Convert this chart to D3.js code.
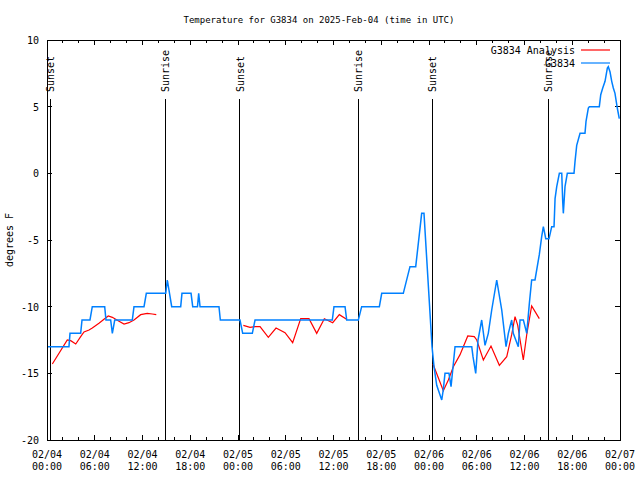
<!DOCTYPE html>
<html><head><meta charset="utf-8">
<script src="https://cdn.jsdelivr.net/npm/d3@7"></script>
<style>
body{margin:0;background:#fff;}
text{font-family:"DejaVu Sans Mono",monospace;font-size:10px;fill:#000;}
</style></head>
<body><svg id="c" width="640" height="480"></svg>
<script>
const titleText = "Temperature for G3834 on 2025-Feb-04 (time in UTC)";
const yLabel = "degrees F";
const yTicks = [-20,-15,-10,-5,0,5,10];
const seriesNames = ["G3834 Analysis","G3834"];
const seriesColors = ["#ff0000","#0080ff"];
// hours since 2025-02-04 00:00 UTC
const blueHours = [0.13,2.76,2.89,4.23,4.40,5.40,5.69,7.25,7.41,8.00,8.21,8.51,10.72,10.93,12.19,12.48,14.92,15.12,15.67,16.80,16.96,18.10,18.31,18.91,19.06,19.23,21.61,21.78,24.25,24.59,25.80,26.14,35.85,36.06,37.45,37.66,39.12,39.54,41.76,42.06,44.77,45.61,46.33,47.08,47.37,48.38,48.63,48.97,49.60,49.80,50.01,50.51,50.77,51.27,53.37,53.53,53.87,54.16,54.62,55.04,55.45,55.88,56.51,57.14,57.68,57.97,58.39,58.59,59.22,59.44,59.86,60.28,60.61,60.90,61.32,61.86,62.16,62.37,62.67,63.08,63.42,63.71,63.84,64.05,64.38,64.68,64.80,64.88,65.09,65.38,66.22,66.35,66.56,66.98,67.60,67.73,68.02,68.15,69.40,69.58,69.83,70.12,70.41,70.53,70.75,70.96,71.16,71.37,71.66,71.91];
const blueTemps = [-13,-13,-12,-12,-11,-11,-10,-10,-11,-11,-12,-11,-11,-10,-10,-9,-9,-8,-10,-10,-9,-9,-10,-10,-9,-10,-10,-11,-11,-12,-12,-11,-11,-10,-10,-11,-11,-10,-10,-9,-9,-7,-7,-3,-3,-13,-14.5,-15.9,-17,-16.2,-15,-15,-16,-13,-13,-13.75,-15,-12.5,-11,-12.9,-12,-10.25,-8,-10.25,-13,-12,-11,-12,-13,-11,-11,-12,-9.75,-8,-8,-6.1,-4.75,-4,-4.9,-4.9,-4,-4,-1.9,-1,0,0,-2.1,-3,-1,0,0,0.9,2.1,3,3,3.9,4.9,5,5,5.9,6.4,6.9,7.9,8,7.6,6.9,6.4,6,4.9,4.1];
// null breaks the analysis line into segments
const redHours = [0.67,2.55,2.98,3.61,4.23,4.65,5.28,5.69,6.53,7.16,7.70,8.21,8.63,9.05,9.68,10.30,10.93,11.77,12.60,13.23,13.73,null,24.67,25.51,26.14,26.77,27.81,28.78,29.91,30.87,31.88,32.92,33.89,34.85,35.90,36.73,37.64,null,48.50,49.80,50.43,51.06,51.90,52.87,53.69,54.00,54.83,55.79,56.84,57.77,58.39,58.81,59.15,59.85,60.28,60.90,61.86];
const redTemps = [-14.3,-12.5,-12.55,-12.8,-12.25,-11.9,-11.75,-11.6,-11.25,-10.95,-10.7,-10.8,-10.95,-11.1,-11.3,-11.2,-11,-10.6,-10.5,-10.55,-10.6,null,-11.4,-11.55,-11.5,-11.5,-12.3,-11.6,-11.95,-12.7,-10.9,-10.9,-12,-10.9,-11.2,-10.6,-10.95,null,-14.3,-16.3,-15.5,-14.5,-13.6,-12.2,-12.25,-12.5,-14,-12.95,-14.4,-13.75,-12.1,-10.75,-11.4,-14,-12.1,-9.95,-10.9];
const sunHours = [0.38,14.83,24.25,39.08,48.38,62.96];
const sunLabels = ["Sunset","Sunrise","Sunset","Sunrise","Sunset","Sunrise"];

const t0 = Date.UTC(2025,1,4);
const toDate = h => new Date(t0 + h*3600e3);
const L=47,R=620,T=40,B=440;
const svg = d3.select("#c");
const x = d3.scaleUtc().domain([toDate(0),toDate(72)]).range([L,R]);
const y = d3.scaleLinear().domain([-20,10]).range([B,T]);

// title
svg.append("text").attr("x",319).attr("y",23).attr("text-anchor","middle").style("font-size","9px").text(titleText);
// y label
svg.append("text").attr("transform","translate(13,240) rotate(-90)").attr("text-anchor","middle").text(yLabel);

const g = svg.append("g").attr("shape-rendering","crispEdges");
// ticks
const major = d3.utcHour.every(6).range(toDate(0),toDate(72.01));
const minor = d3.utcHour.every(2).range(toDate(0),toDate(72.01));
minor.forEach(d=>{
  const isMaj = d.getUTCHours()%6===0;
  const len = isMaj?5:3;
  g.append("line").attr("x1",x(d)).attr("x2",x(d)).attr("y1",B).attr("y2",B-len).attr("stroke","#000");
  g.append("line").attr("x1",x(d)).attr("x2",x(d)).attr("y1",T).attr("y2",T+len).attr("stroke","#000");
});
yTicks.forEach(v=>{
  g.append("line").attr("x1",L).attr("x2",L+5).attr("y1",y(v)).attr("y2",y(v)).attr("stroke","#000");
  g.append("line").attr("x1",R).attr("x2",R-5).attr("y1",y(v)).attr("y2",y(v)).attr("stroke","#000");
  svg.append("text").attr("x",39).attr("y",y(v)+4).attr("text-anchor","end").text(v);
});
const fmtD = d3.utcFormat("%m/%d"), fmtH = d3.utcFormat("%H:%M");
major.forEach(d=>{
  const t = svg.append("text").attr("text-anchor","middle");
  t.append("tspan").attr("x",x(d)).attr("y",458).text(fmtD(d));
  t.append("tspan").attr("x",x(d)).attr("y",470).text(fmtH(d));
});

// sun lines
sunHours.forEach((h,i)=>{
  const xs = x(toDate(h));
  g.append("line").attr("x1",xs).attr("x2",xs).attr("y1",99).attr("y2",B).attr("stroke","#000").attr("stroke-width",1);
  svg.append("text").attr("transform",`translate(${xs+4},92) rotate(-90)`).attr("text-anchor","start").text(sunLabels[i]);
});

// frame
g.append("rect").attr("x",L).attr("y",T).attr("width",R-L).attr("height",B-T).attr("fill","none").attr("stroke","#000");

// series
const redData = redHours.map((h,i)=>({h, v: redTemps[i]}));
const blueData = blueHours.map((h,i)=>({h, v: blueTemps[i]}));
const line = d3.line().defined(d=>d.h!==null && d.v!==null).x(d=>x(toDate(d.h))).y(d=>y(d.v));
svg.append("path").datum(redData).attr("d",line).attr("fill","none").attr("stroke",seriesColors[0]).attr("stroke-width",1.2);
svg.append("path").datum(blueData).attr("d",line).attr("fill","none").attr("stroke",seriesColors[1]).attr("stroke-width",1.5);

// legend
seriesNames.forEach((n,i)=>{
  const ly = 50 + i*13;
  svg.append("text").attr("x",575).attr("y",ly+4).attr("text-anchor","end").text(n);
  svg.append("line").attr("x1",581).attr("x2",610).attr("y1",ly).attr("y2",ly).attr("stroke",seriesColors[i]).attr("stroke-width",1.2);
});
</script></body></html>
